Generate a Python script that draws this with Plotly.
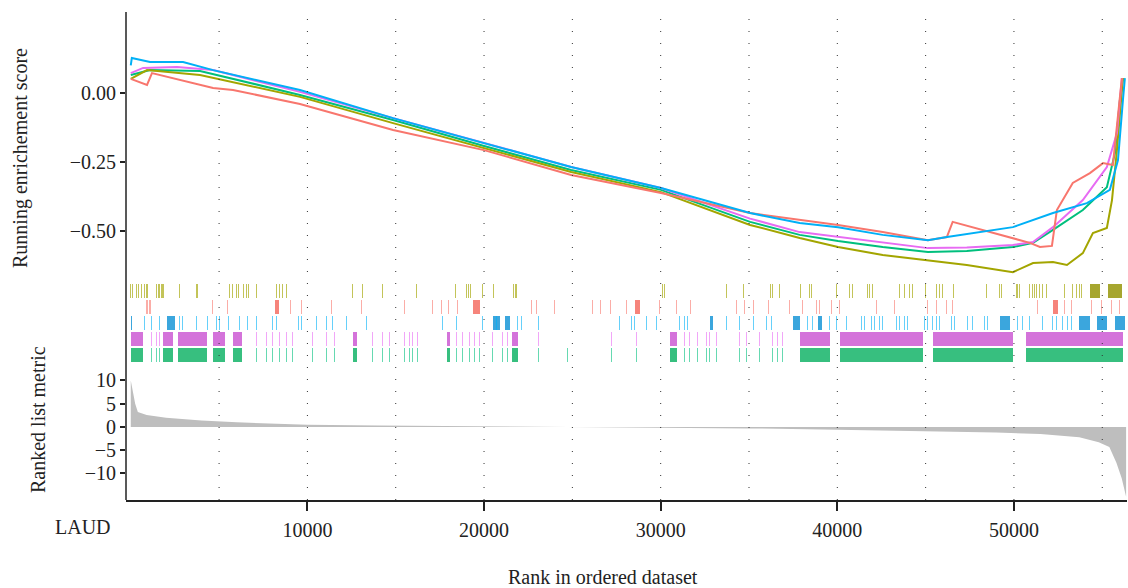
import plotly.graph_objects as go

# ---------------- data ----------------
red_rank = [0, 920, 1200, 4660, 5790, 9580, 14850, 20000, 24930, 30020, 35060, 37870, 40040, 42570, 45130, 46200,
            46530, 50900, 51470, 52150, 52430, 53330, 54130, 54300, 55040, 55600, 56110]
red_es = [0.051, 0.029, 0.072, 0.018, 0.011, -0.040, -0.134, -0.207, -0.297, -0.362, -0.435, -0.460, -0.478,
          -0.504, -0.533, -0.522, -0.467, -0.543, -0.558, -0.554, -0.424, -0.326, -0.297, -0.290, -0.254, -0.261,
          0.054]

olive_rank = [0, 920, 3920, 9580, 14850, 20000, 24930, 30020, 35060, 37870, 40040, 42570, 45130, 47330, 49940,
              51080, 52210, 53000, 53900, 54470, 55260, 55550, 55830, 56000, 56170]
olive_es = [0.051, 0.083, 0.065, -0.014, -0.109, -0.199, -0.286, -0.359, -0.478, -0.525, -0.558, -0.587, -0.605,
            -0.623, -0.649, -0.616, -0.612, -0.623, -0.580, -0.507, -0.489, -0.388, -0.207, -0.062, 0.054]

green_rank = [0, 1090, 3920, 9580, 14850, 20000, 24930, 30020, 35060, 37870, 40040, 42570, 45130, 47330, 49940,
              51080, 52210, 53900, 55260, 55720, 56000, 56170]
green_es = [0.065, 0.083, 0.080, -0.007, -0.098, -0.192, -0.279, -0.351, -0.467, -0.514, -0.536, -0.558, -0.576,
            -0.572, -0.558, -0.543, -0.496, -0.424, -0.341, -0.217, -0.025, 0.054]

blue_rank = [0, 60, 1090, 2960, 4660, 9580, 14850, 20000, 24930, 30020, 35060, 37870, 40040, 42570, 45130, 46210,
             49940, 52210, 54130, 55430, 55890, 56170, 56280]
blue_es = [0.100, 0.127, 0.112, 0.112, 0.083, 0.011, -0.091, -0.181, -0.268, -0.344, -0.435, -0.471, -0.486,
           -0.514, -0.533, -0.522, -0.486, -0.435, -0.399, -0.351, -0.243, -0.025, 0.054]

purple_rank = [0, 700, 2620, 4660, 9580, 14850, 20000, 24930, 30020, 35060, 37870, 40040, 42570, 45130, 47330,
               49940, 51080, 52210, 53900, 55260, 55830, 56110]
purple_es = [0.072, 0.091, 0.094, 0.083, 0.004, -0.091, -0.181, -0.268, -0.344, -0.455, -0.504, -0.522, -0.543,
             -0.562, -0.560, -0.551, -0.540, -0.486, -0.388, -0.268, -0.145, 0.054]

# gene-set hit positions (single hits) and dense runs of hits (start, end)
olive_hits = [0, 110, 340, 450, 620, 790, 910, 1470, 1590, 1760, 1870, 2770, 3740, 3790, 5600, 5770, 6000, 6110,
              6400, 6570, 6680, 7130, 8260, 8430, 8600, 8830, 12570, 13130, 14260, 16190, 18400, 19020, 19130,
              19240, 19920, 20550, 21680, 21790, 21850, 30110, 30220, 33730, 34700, 36220, 36340, 36730, 37920,
              38430, 38550, 39960, 40700, 40870, 41710, 41830, 42000, 43530, 43810, 44090, 44260, 45000, 45620,
              45790, 45960, 46580, 48450, 49190, 49300, 50150, 50200, 50320, 50880, 51050, 51170, 51280, 51450,
              51620, 51850, 52860, 53320, 53540, 53710, 53830]
olive_runs = [(54280, 54850), (55300, 56090)]

red_hits = [910, 1080, 4640, 5490, 9060, 9680, 11380, 13080, 15510, 17090, 17600, 18000, 18510, 22700, 22980,
            24000, 26150, 26600, 27170, 28070, 29940, 30900, 31700, 34300, 34750, 35260, 36110, 37300, 38040,
            38830, 39000, 39680, 40130, 42220, 43240, 45110, 45620, 46190, 46530, 51340, 52860, 53260, 54390,
            54960, 55530, 55980]
red_runs = [(8150, 8380), (19360, 19750), (28530, 28810), (52190, 52470)]

blue_hits = [790, 1190, 1640, 2770, 2940, 3740, 4360, 4870, 5040, 5550, 6170, 6620, 7130, 8040, 8260, 9510,
             9680, 10530, 11090, 11430, 12230, 13360, 17660, 18450, 19920, 20720, 21900, 22130, 23090, 27680,
             28360, 28530, 29210, 29770, 31070, 31360, 31530, 33730, 34470, 35260, 36000, 36280, 38320, 38600,
             39560, 39960, 40530, 41370, 41540, 41940, 42110, 42390, 42560, 43360, 43530, 43810, 43980, 44940,
             45110, 45390, 45620, 45790, 46470, 46640, 47380, 47660, 48340, 48510, 50200, 50490, 50880, 51620,
             52190, 52410, 52750, 53030, 53260]
blue_runs = [(0, 60), (2040, 2490), (20490, 20890), (21170, 21450), (32770, 32940), (37470, 37870),
             (38880, 39110), (49190, 49750), (53710, 54280), (54680, 55240), (55700, 56260)]

purple_hits = [1190, 1470, 1640, 7130, 7700, 8040, 8430, 8830, 9170, 10300, 11090, 11550, 13700, 14260, 14660,
               15510, 15790, 15960, 16240, 18450, 18790, 19190, 19470, 19750, 20490, 21060, 21340, 23090, 27220,
               28640, 31360, 31640, 32090, 32600, 32770, 33170, 34470, 34870, 35600, 36340, 36620, 36900]
purple_runs = [(0, 680), (1810, 2380), (2660, 4300), (4640, 5320), (5770, 6280), (12570, 12790), (17890, 18060),
               (21560, 21900), (30510, 30900), (37870, 39560), (40130, 44830), (45390, 49920), (50710, 56150)]

green_hits = [1190, 1470, 1640, 7130, 7700, 8040, 8430, 8830, 9170, 10300, 11090, 11550, 13700, 14260, 14660,
              15510, 15790, 15960, 16240, 18450, 18790, 19190, 19470, 19750, 20490, 21060, 21340, 23090, 24730,
              27220, 28640, 31360, 31640, 32090, 32600, 32770, 33170, 34470, 34870, 35600, 36340, 36620, 36900]
green_runs = [(0, 680), (1810, 2380), (2660, 4300), (4640, 5320), (5770, 6280), (12570, 12790), (17890, 18060),
              (21560, 21900), (30510, 30900), (37870, 39560), (40130, 44830), (45390, 49920), (50710, 56150)]

metric_rank = [0, 100, 250, 400, 900, 2000, 4000, 6000, 8000, 10000, 14000, 18000, 21000, 23500, 26000, 30000,
               35000, 40000, 45000, 49000, 51500, 53700, 54800, 55400, 55800, 56100, 56350]
metric_val = [10.0, 8.0, 5.0, 3.2, 2.6, 2.0, 1.4, 1.0, 0.7, 0.5, 0.3, 0.2, 0.1, 0.0, -0.05, -0.15, -0.3, -0.6,
              -0.9, -1.2, -1.5, -2.2, -3.3, -4.3, -7.7, -11.0, -15.0]

x_ticks = [10000, 20000, 30000, 40000, 50000]
grid_ranks = [5000, 10000, 15000, 20000, 25000, 30000, 35000, 40000, 45000, 50000, 55000]
es_ticks = [0.0, -0.25, -0.5]
metric_ticks = [10, 5, 0, -5, -10]

# ---------------- styling ----------------
COL = {"red": "#F8766D", "olive": "#A3A500", "green": "#00BF7D", "blue": "#00B0F6", "purple": "#E76BF3"}
HIT = {"red": "rgba(248,118,109,0.6)", "olive": "rgba(163,165,0,0.65)", "green": "rgba(0,191,125,0.6)",
       "blue": "rgba(0,176,246,0.6)", "purple": "rgba(231,107,243,0.6)"}
RUN = {"red": "rgba(245,110,100,0.85)", "olive": "rgba(150,150,10,0.85)", "green": "rgba(20,180,105,0.85)",
       "blue": "rgba(25,150,215,0.85)", "purple": "rgba(205,90,212,0.85)"}
FONT = "Liberation Serif, Times New Roman, serif"

fig = go.Figure()

# ES curves
for name, xs, ys in [("green", green_rank, green_es), ("olive", olive_rank, olive_es),
                     ("purple", purple_rank, purple_es), ("red", red_rank, red_es), ("blue", blue_rank, blue_es)]:
    fig.add_trace(go.Scatter(x=xs, y=ys, mode="lines", line=dict(color=COL[name], width=2),
                             xaxis="x", yaxis="y", showlegend=False, hoverinfo="skip"))

# rug rows (row index from bottom)
rows = [("green", green_hits, green_runs, 0), ("purple", purple_hits, purple_runs, 1),
        ("blue", blue_hits, blue_runs, 2), ("red", red_hits, red_runs, 3), ("olive", olive_hits, olive_runs, 4)]
for name, hits, runs, r in rows:
    cx = [(a + b) / 2 for a, b in runs]
    w = [max(b - a, 70) for a, b in runs]
    fig.add_trace(go.Bar(x=cx, y=[0.92] * len(runs), base=[r + 0.04] * len(runs), width=w,
                         marker=dict(color=RUN[name], line=dict(width=0)),
                         xaxis="x", yaxis="y2", showlegend=False, hoverinfo="skip"))
    fig.add_trace(go.Bar(x=hits, y=[0.92] * len(hits), base=[r + 0.04] * len(hits), width=[75] * len(hits),
                         marker=dict(color=HIT[name], line=dict(width=0)),
                         xaxis="x", yaxis="y2", showlegend=False, hoverinfo="skip"))

# ranked list metric
fig.add_trace(go.Scatter(x=metric_rank, y=metric_val, mode="lines", line=dict(width=0, color="#BEBEBE"),
                         fill="tozeroy", fillcolor="#BEBEBE", xaxis="x", yaxis="y3", showlegend=False,
                         hoverinfo="skip"))

# dotted vertical grid lines
for g in grid_ranks:
    fig.add_shape(type="line", xref="x", yref="paper", x0=g, x1=g, y0=0, y1=0.995,
                  line=dict(color="#333333", width=1, dash="1px,11px"), layer="above")
# full-height left axis line
fig.add_shape(type="line", xref="paper", yref="paper", x0=0, x1=0, y0=0, y1=1,
              line=dict(color="#222222", width=1.5), layer="above")

tickfont = dict(family=FONT, size=20, color="#222222")


def px_x(p):
    return (p - 126) / 1001


def px_y(p):
    return (500 - p) / 488


fig.update_layout(
    width=1128, height=588,
    margin=dict(l=126, r=1, t=12, b=88),
    paper_bgcolor="white", plot_bgcolor="white",
    barmode="overlay", bargap=0,
    font=dict(family=FONT, size=20, color="#222222"),
    xaxis=dict(domain=[0, 1], range=[-270, 56400], anchor="y3", tickvals=x_ticks,
               ticktext=[str(v) for v in x_ticks], ticks="outside", ticklen=9, tickwidth=1.5,
               tickcolor="#222222", showline=True, linecolor="#222222", linewidth=1.5, showgrid=False,
               zeroline=False, tickfont=tickfont, ticklabelstandoff=2),
    yaxis=dict(domain=[220 / 488, 1], range=[-0.6775, 0.2935], anchor="x", tickvals=es_ticks,
               tickformat=".2f", ticks="outside", ticklen=5, tickcolor="#222222", tickwidth=1.5,
               showgrid=False, zeroline=False, showline=False, tickfont=tickfont),
    yaxis2=dict(domain=[135 / 488, 220 / 488], range=[-0.125, 5.1875], anchor="x", showticklabels=False,
                ticks="", showgrid=False, zeroline=False, showline=False),
    yaxis3=dict(domain=[0, 135 / 488], range=[-15.7, 13.33], anchor="x", tickvals=metric_ticks,
                ticks="outside", ticklen=5, tickcolor="#222222", tickwidth=1.5, showgrid=False,
                zeroline=False, showline=False, tickfont=tickfont),
    annotations=[
        dict(text="Running enrichement score", xref="paper", yref="paper", x=px_x(20), y=px_y(158),
             xanchor="center", yanchor="middle", textangle=-90, showarrow=False,
             font=dict(family=FONT, size=20)),
        dict(text="Ranked list metric", xref="paper", yref="paper", x=px_x(38), y=px_y(420),
             xanchor="center", yanchor="middle", textangle=-90, showarrow=False,
             font=dict(family=FONT, size=20)),
        dict(text="LAUD", xref="paper", yref="paper", x=px_x(83), y=px_y(527),
             xanchor="center", yanchor="middle", showarrow=False, font=dict(family=FONT, size=20)),
        dict(text="Rank in ordered dataset", xref="paper", yref="paper", x=px_x(603), y=px_y(577),
             xanchor="center", yanchor="middle", showarrow=False, font=dict(family=FONT, size=20)),
    ],
)

fig.write_html("out.html")
